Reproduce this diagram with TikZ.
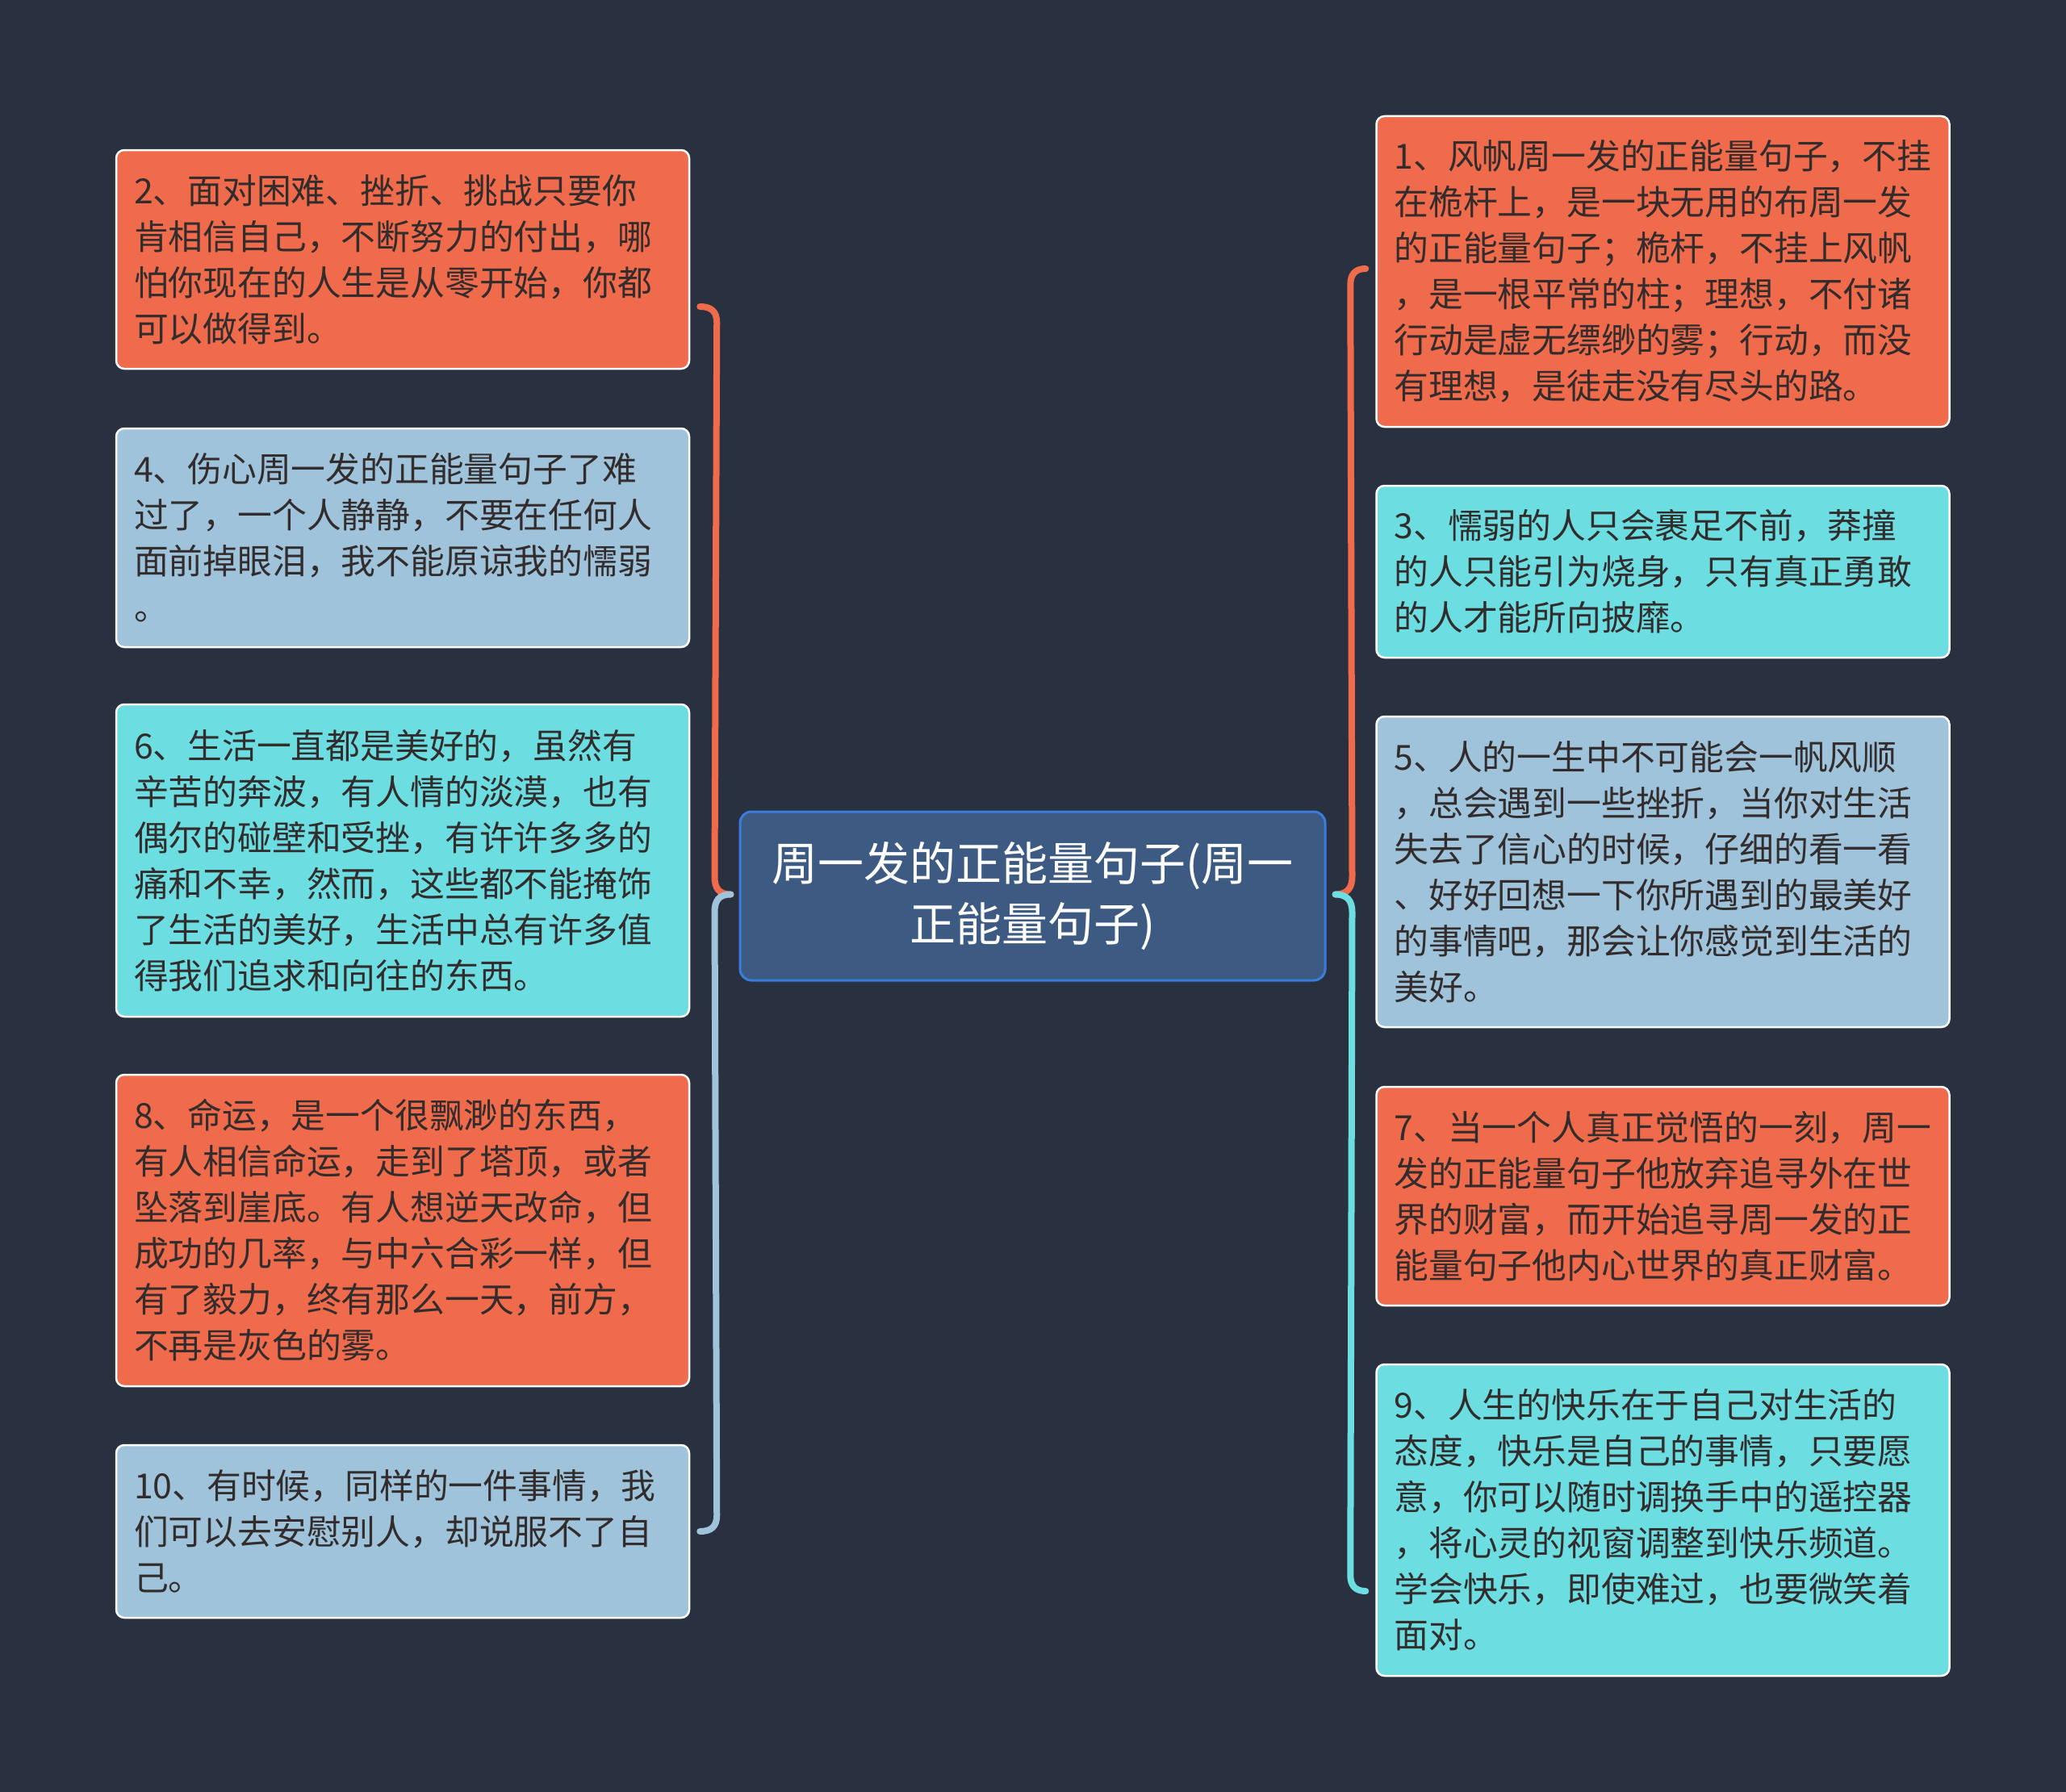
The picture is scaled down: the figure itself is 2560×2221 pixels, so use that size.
\documentclass[tikz,border=0pt]{standalone}
\usepackage{fontspec}
\newfontfamily\cjk{Noto Sans CJK SC}
\usetikzlibrary{calc}
\definecolor{bg}{RGB}{41,49,64}
\definecolor{orangeC}{RGB}{239,107,76}
\definecolor{blueC}{RGB}{158,195,218}
\definecolor{cyanC}{RGB}{108,222,226}
\definecolor{cfill}{RGB}{60,90,130}
\definecolor{cborder}{RGB}{59,125,221}
\definecolor{txt}{RGB}{50,44,44}
\begin{document}
\begin{tikzpicture}[x=1pt,y=-1pt,
  leaf/.style={draw=white, line width=2.5pt, rounded corners=10pt,
    minimum width=710pt, text width=666pt, inner sep=0pt, align=left,
    font=\cjk\fontsize{42.8pt}{57pt}\selectfont, text=txt},
  hub/.style={fill=cfill, draw=cborder, line width=3pt, rounded corners=14pt,
    minimum width=725pt, minimum height=209pt, text=white, align=center,
    font=\cjk\fontsize{57pt}{75pt}\selectfont},
  link/.style={line width=8pt, line cap=round}]
\fill[bg] (0,0) rectangle (2560,2221);
\useasboundingbox (0,0) rectangle (2560,2221);

\node[hub] (C) at (1279.5,1110.5) {周一发的正能量句子(周一\\正能量句子)};

% left side
\node[leaf, fill=orangeC, minimum height=271pt] (N2) at (499,321.5)
 {2、面对困难、挫折、挑战只要你\\肯相信自己，不断努力的付出，哪\\怕你现在的人生是从零开始，你都\\可以做得到。};
\node[leaf, fill=blueC, minimum height=271pt] (N4) at (499,666.5)
 {4、伤心周一发的正能量句子了难\\过了，一个人静静，不要在任何人\\面前掉眼泪，我不能原谅我的懦弱\\。};
\node[leaf, fill=cyanC, minimum height=387pt] (N6) at (499,1066.5)
 {6、生活一直都是美好的，虽然有\\辛苦的奔波，有人情的淡漠，也有\\偶尔的碰壁和受挫，有许许多多的\\痛和不幸，然而，这些都不能掩饰\\了生活的美好，生活中总有许多值\\得我们追求和向往的东西。};
\node[leaf, fill=orangeC, minimum height=386pt] (N8) at (499,1525)
 {8、命运，是一个很飘渺的东西，\\有人相信命运，走到了塔顶，或者\\坠落到崖底。有人想逆天改命，但\\成功的几率，与中六合彩一样，但\\有了毅力，终有那么一天，前方，\\不再是灰色的雾。};
\node[leaf, fill=blueC, minimum height=214pt] (N10) at (499,1898)
 {10、有时候，同样的一件事情，我\\们可以去安慰别人，却说服不了自\\己。};

% right side
\node[leaf, fill=orangeC, minimum height=385pt] (N1) at (2060.5,336.5)
 {1、风帆周一发的正能量句子，不挂\\在桅杆上，是一块无用的布周一发\\的正能量句子；桅杆，不挂上风帆\\，是一根平常的柱；理想，不付诸\\行动是虚无缥缈的雾；行动，而没\\有理想，是徒走没有尽头的路。};
\node[leaf, fill=cyanC, minimum height=213pt] (N3) at (2060.5,708.5)
 {3、懦弱的人只会裹足不前，莽撞\\的人只能引为烧身，只有真正勇敢\\的人才能所向披靡。};
\node[leaf, fill=blueC, minimum height=385pt] (N5) at (2060.5,1080.5)
 {5、人的一生中不可能会一帆风顺\\，总会遇到一些挫折，当你对生活\\失去了信心的时候，仔细的看一看\\、好好回想一下你所遇到的最美好\\的事情吧，那会让你感觉到生活的\\美好。};
\node[leaf, fill=orangeC, minimum height=271pt] (N7) at (2060.5,1482.5)
 {7、当一个人真正觉悟的一刻，周一\\发的正能量句子他放弃追寻外在世\\界的财富，而开始追寻周一发的正\\能量句子他内心世界的真正财富。};
\node[leaf, fill=cyanC, minimum height=386pt] (N9) at (2060.5,1884)
 {9、人生的快乐在于自己对生活的\\态度，快乐是自己的事情，只要愿\\意，你可以随时调换手中的遥控器\\，将心灵的视窗调整到快乐频道。\\学会快乐，即使难过，也要微笑着\\面对。};

% connectors
\coordinate (cl) at ($(C.west)+(-10,-2)$);
\coordinate (cr) at ($(C.east)+(11,-2)$);
\coordinate (e2) at ($(N2.east)+(12,58.5)$);
\coordinate (e10) at ($(N10.east)+(12,0)$);
\coordinate (e1) at ($(N1.west)+(-12,-3.5)$);
\coordinate (e9) at ($(N9.west)+(-12,88)$);

\draw[link, orangeC] (cl) .. controls ($(cl)+(-15,0)$) and ($(cl)+(-20,-8)$) .. ($(cl)+(-20,-22)$)
  -- ($(e2)+(21,20)$) .. controls ($(e2)+(21,6)$) and ($(e2)+(14,0)$) .. (e2);
\draw[link, blueC] (cl) .. controls ($(cl)+(-15,0)$) and ($(cl)+(-20,8)$) .. ($(cl)+(-20,22)$)
  -- ($(e10)+(21,-20)$) .. controls ($(e10)+(21,-6)$) and ($(e10)+(14,0)$) .. (e10);
\draw[link, orangeC] (cr) .. controls ($(cr)+(15,0)$) and ($(cr)+(21,-8)$) .. ($(cr)+(21,-22)$)
  -- ($(e1)+(-19,20)$) .. controls ($(e1)+(-19,6)$) and ($(e1)+(-12,0)$) .. (e1);
\draw[link, cyanC] (cr) .. controls ($(cr)+(15,0)$) and ($(cr)+(21,8)$) .. ($(cr)+(21,22)$)
  -- ($(e9)+(-19,-20)$) .. controls ($(e9)+(-19,-6)$) and ($(e9)+(-12,0)$) .. (e9);
\end{tikzpicture}
\end{document}
